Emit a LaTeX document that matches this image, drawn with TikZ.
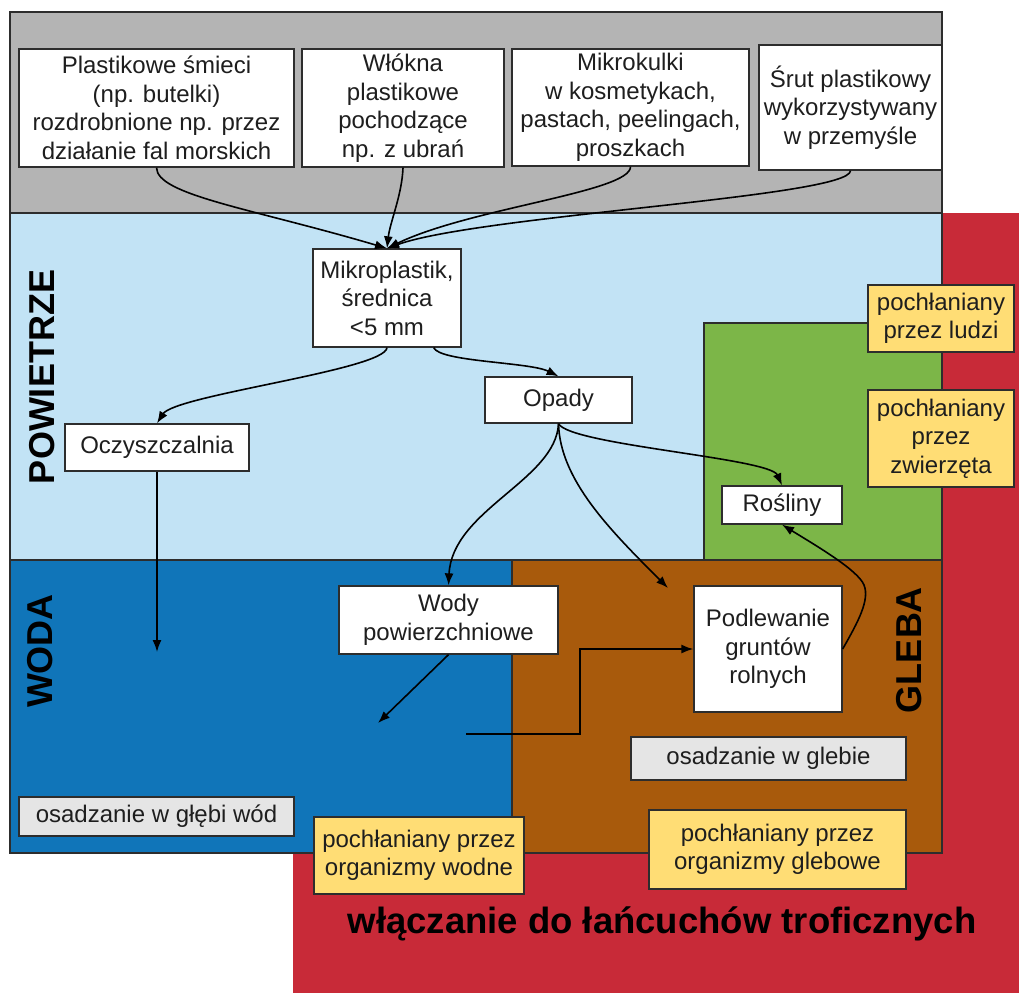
\documentclass[tikz,border=0pt]{standalone}
\usepackage{fontspec}
\setmainfont{Liberation Sans}
\usetikzlibrary{arrows.meta}
\definecolor{cgray}{RGB}{180,180,180}
\definecolor{clblue}{RGB}{194,227,245}
\definecolor{cred}{RGB}{200,42,56}
\definecolor{cwater}{RGB}{16,117,185}
\definecolor{csoil}{RGB}{168,90,12}
\definecolor{cgreen}{RGB}{124,182,72}
\definecolor{cyell}{RGB}{255,221,117}
\definecolor{clgray}{RGB}{229,229,229}
\definecolor{cborder}{RGB}{45,45,45}
\definecolor{ctext}{RGB}{30,30,30}
\begin{document}
\begin{tikzpicture}[x=1pt,y=-1pt,
  region/.style={draw=cborder, line width=1.2pt},
  box/.style={draw=cborder, fill=white, line width=1.3pt, align=center, inner sep=0pt,
    text=ctext, font=\fontsize{24}{28.5}\selectfont},
  ybox/.style={box, fill=cyell},
  gbox/.style={box, fill=clgray},
  lab/.style={inner sep=0pt, text=black, font=\bfseries\fontsize{36}{36}\selectfont},
  conn/.style={draw=black, line width=1.6pt, -{Latex[length=12pt,width=9pt]}},
  plain/.style={draw=black, line width=1.6pt}]
\useasboundingbox (0,0) rectangle (1019,993);
\fill[white] (0,0) rectangle (1019,993);
% regions
\fill[cred] (293,213) rectangle (1019,993);
\draw[region, fill=cgray] (10,12) rectangle (942,213);
\draw[region, fill=clblue] (10,213) rectangle (942,560);
\draw[region, fill=cgreen] (704,323) rectangle (942,560);
\draw[region, fill=cwater] (10,560) rectangle (512,853);
\draw[region, fill=csoil] (512,560) rectangle (942,853);
% region labels
\node[lab, rotate=90] (powietrze) at (42,377) {POWIETRZE};
\node[lab, rotate=90] (woda) at (40,651) {WODA};
\node[lab, rotate=90] (gleba) at (909,650) {GLEBA};
\node[lab, anchor=base, font=\bfseries\fontsize{36.5}{36.5}\selectfont] (tytul) at (662,933) {włączanie do łańcuchów troficznych};
% boxes
\node[box, minimum width=275pt, minimum height=118pt] (b1) at (156.5,108) {Plastikowe śmieci\\(np. butelki)\\rozdrobnione np. przez\\działanie fal morskich};
\node[box, minimum width=202pt, minimum height=118pt] (b2) at (403,108) {Włókna\\plastikowe\\pochodzące\\np. z ubrań};
\node[box, minimum width=237pt, minimum height=117pt] (b3) at (630.5,107.5) {Mikrokulki\\w kosmetykach,\\pastach, peelingach,\\proszkach};
\node[box, minimum width=183pt, minimum height=125pt] (b4) at (850.5,107.5) {Śrut plastikowy\\wykorzystywany\\w przemyśle};
\node[box, minimum width=148pt, minimum height=98pt] (mp) at (387,298) {Mikroplastik,\\średnica\\<5 mm};
\node[box, minimum width=184pt, minimum height=47pt] (oc) at (157,447.5) {Oczyszczalnia};
\node[box, minimum width=147pt, minimum height=46pt] (op) at (558.5,400) {Opady};
\node[box, minimum width=120pt, minimum height=38pt] (ro) at (782,505) {Rośliny};
\node[ybox, minimum width=146pt, minimum height=67pt] (pl) at (941,318.5) {pochłaniany\\przez ludzi};
\node[ybox, minimum width=146pt, minimum height=97pt] (pz) at (941,438.5) {pochłaniany\\przez\\zwierzęta};
\node[box, minimum width=219pt, minimum height=68pt] (wp) at (448.5,620) {Wody\\powierzchniowe};
\node[box, minimum width=148pt, minimum height=126pt] (pg) at (768,649) {Podlewanie\\gruntów\\rolnych};
\node[gbox, minimum width=275pt, minimum height=43pt] (og) at (768.5,758.5) {osadzanie w glebie};
\node[ybox, minimum width=257pt, minimum height=79pt] (pog) at (777.5,849.5) {pochłaniany przez\\organizmy glebowe};
\node[gbox, minimum width=275pt, minimum height=39pt] (ow) at (156.5,816.5) {osadzanie w głębi wód};
\node[ybox, minimum width=210pt, minimum height=77pt] (pow) at (419,855.5) {pochłaniany przez\\organizmy wodne};
% free ends
\coordinate (ocEnd) at (157,652);
\coordinate (opEnd) at (668,588);
\coordinate (wpEnd) at (378,723);
\coordinate (wStart) at (466,734);
\coordinate (elbowA) at (580,734);
\coordinate (elbowB) at (580,649);
\coordinate (pgTurn) at (864,585);
% connectors
\draw[conn] (b1.south) .. controls (157,195) and (250,208) .. (mp.north);
\draw[conn] (b2.south) .. controls (402,195) and (390,222) .. (mp.north);
\draw[conn] (b3.south) .. controls (631,192) and (470,208) .. (mp.north);
\draw[conn] (b4.south) .. controls (850,197) and (480,215) .. (mp.north);
\draw[conn] (mp.south) .. controls (385,370) and (175,395) .. (oc.north);
\draw[conn] ([xshift=-28pt]mp.south east) .. controls (440,362) and (530,362) .. (op.north);
\draw[conn] (op.south) .. controls (570,445) and (770,458) .. (ro.north);
\draw[conn] (op.south) .. controls (556,480) and (452,510) .. (wp.north);
\draw[conn] (op.south) .. controls (560,480) and (610,530) .. (opEnd);
\draw[conn] (oc.south) -- (ocEnd);
\draw[conn] (wp.south) -- (wpEnd);
\draw[conn] (wStart) -- (elbowA) -- (elbowB) -- (pg.west);
\draw[conn] (pg.east) .. controls (858,622) and (870,600) .. (pgTurn) .. controls (858,570) and (815,545) .. (ro.south);
\end{tikzpicture}
\end{document}
